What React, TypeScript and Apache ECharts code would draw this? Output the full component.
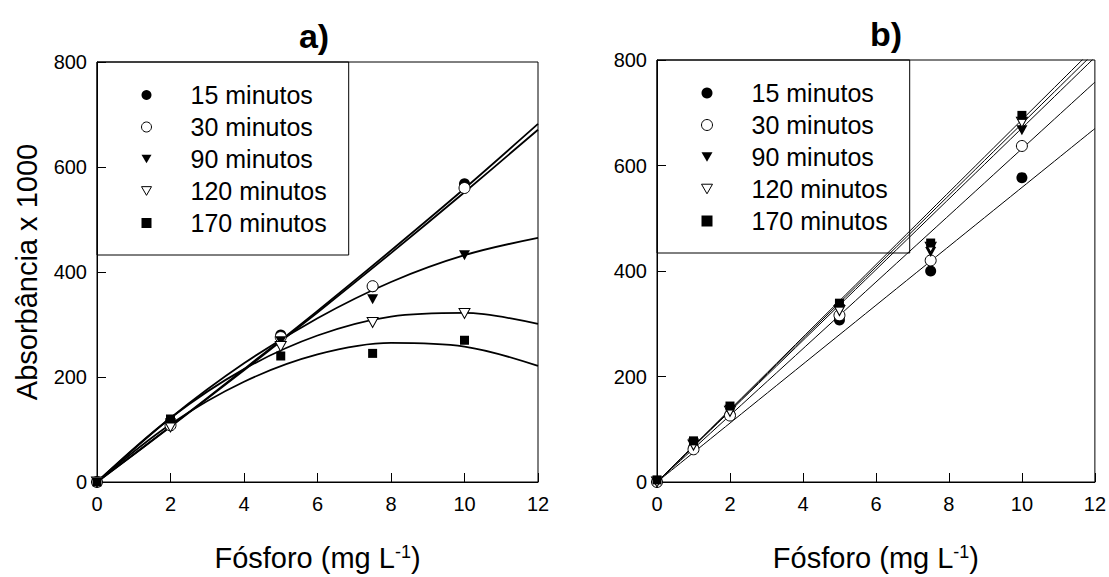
import React, { useEffect, useRef } from "react";
import * as echarts from "echarts";

const FONT = '"Liberation Sans", Arial, Helvetica, sans-serif';

const seriesNames = ["15 minutos", "30 minutos", "90 minutos", "120 minutos", "170 minutos"];
const xTicks = [0, 12, 2];
const yTicks = [0, 800, 200];

// Panel a) measured points
const xA = [0, 2, 5, 7.5, 10];
const a15 = [0, 115, 280, 372, 568];
const a30 = [0, 108, 276, 373, 560];
const a90 = [0, 112, 268, 348, 432];
const a120 = [0, 105, 258, 304, 321];
const a170 = [0, 120, 240, 245, 270];

// Panel a) fitted curves
const fitXA = [0, 2, 4, 6, 8, 10, 12];
const fitA15 = [0, 106, 215, 326, 441, 559, 682];
const fitA30 = [0, 105, 213, 323, 436, 552, 671];
const fitA90 = [0, 122, 226, 312, 381, 432, 465];
const fitA120 = [0, 122, 215, 279, 315, 322, 301];
const fitA170 = [0, 110, 191, 243, 265, 258, 221];

// Panel b) measured points
const xB = [0, 1, 2, 5, 7.5, 10];
const b15 = [0, 65, 128, 307, 400, 577];
const b30 = [0, 62, 126, 316, 420, 637];
const b90 = [0, 73, 137, 328, 436, 667];
const b120 = [0, 70, 134, 325, 445, 682];
const b170 = [4, 78, 144, 339, 453, 695];

// Panel b) fitted straight lines
const fitXB = [0, 12];
const fitB15 = [0, 670];
const fitB30 = [0, 758];
const fitB90 = [0, 805];
const fitB120 = [0, 815];
const fitB170 = [0, 824];

const TRI_DOWN = "path://M0,0L10,0L5,8.7Z";
const markers = [
  { symbol: "circle", size: 11, fill: "#000" },
  { symbol: "circle", size: 11, fill: "#fff" },
  { symbol: TRI_DOWN, size: [11, 10], fill: "#000" },
  { symbol: TRI_DOWN, size: [11, 10], fill: "#fff" },
  { symbol: "rect", size: 9, fill: "#000" },
];

function pts(x: number[], y: number[]) {
  return x.map((v, i) => [v, y[i]]);
}

function scatterSeries(idx: number, x: number[], y: number[], k: number) {
  const m = markers[k];
  return {
    type: "scatter",
    name: seriesNames[k],
    xAxisIndex: idx,
    yAxisIndex: idx,
    data: pts(x, y),
    symbol: m.symbol,
    symbolSize: m.size,
    itemStyle: { color: m.fill, borderColor: "#000", borderWidth: m.fill === "#fff" ? 1 : 0, opacity: 1 },
    z: 3 + k * 0.01,
    silent: true,
    emphasis: { disabled: true },
  };
}

function lineSeries(idx: number, x: number[], y: number[], k: number, width: number) {
  return {
    type: "line",
    name: seriesNames[k] + " ajuste",
    xAxisIndex: idx,
    yAxisIndex: idx,
    data: pts(x, y),
    smooth: 0.35,
    symbol: "none",
    showSymbol: false,
    lineStyle: { color: "#000", width },
    clip: true,
    z: 2,
    silent: true,
    emphasis: { disabled: true },
  };
}

function legendFor(left: number, top: number, iconSize: number) {
  return {
    show: true,
    orient: "vertical",
    left,
    top,
    padding: [20, 22, 19, 44],
    borderColor: "#000",
    borderWidth: 1,
    itemWidth: iconSize,
    itemHeight: iconSize,
    itemGap: 6,
    selectedMode: false,
    formatter: (n: string) => "{g| }" + n,
    textStyle: {
      fontSize: 25,
      lineHeight: 26,
      color: "#000",
      fontFamily: FONT,
      rich: { g: { width: 34, fontSize: 25 } },
    },
    data: seriesNames.map((n, k) => ({
      name: n,
      icon: markers[k].symbol,
      itemStyle: {
        color: markers[k].fill,
        borderColor: "#000",
        borderWidth: markers[k].fill === "#fff" ? 1 : 0,
      },
    })),
  };
}

function xAxisFor(idx: number) {
  return {
    type: "value",
    gridIndex: idx,
    min: xTicks[0],
    max: xTicks[1],
    interval: xTicks[2],
    name: "Fósforo (mg L{sup|-1})",
    nameLocation: "middle",
    nameGap: 61,
    nameTextStyle: {
      fontSize: 29,
      color: "#000",
      fontFamily: FONT,
      rich: { sup: { fontSize: 18, verticalAlign: "top", color: "#000", fontFamily: FONT } },
    },
    axisLine: { show: true, onZero: false, lineStyle: { color: "#000", width: 1 } },
    axisTick: { show: true, inside: true, length: 9, lineStyle: { color: "#000" } },
    axisLabel: { color: "#000", fontSize: 20, fontFamily: FONT, margin: 12 },
    splitLine: { show: false },
  };
}

function yAxisFor(idx: number, withName: boolean) {
  return {
    type: "value",
    gridIndex: idx,
    min: yTicks[0],
    max: yTicks[1],
    interval: yTicks[2],
    name: withName ? "Absorbância x 1000" : "",
    nameLocation: "middle",
    nameGap: 56,
    nameTextStyle: { fontSize: 29, color: "#000", fontFamily: FONT },
    axisLine: { show: true, onZero: false, lineStyle: { color: "#000", width: 1 } },
    axisTick: { show: true, inside: true, length: 9, lineStyle: { color: "#000" } },
    axisLabel: { color: "#000", fontSize: 20, fontFamily: FONT, margin: 10 },
    splitLine: { show: false },
  };
}

export default function App() {
  const ref = useRef<HTMLDivElement>(null);
  useEffect(() => {
    if (!ref.current) return;
    const chart = echarts.init(ref.current, undefined, { renderer: "svg" });
    const fitsA = [fitA15, fitA30, fitA90, fitA120, fitA170];
    const ptsA = [a15, a30, a90, a120, a170];
    const fitsB = [fitB15, fitB30, fitB90, fitB120, fitB170];
    const ptsB = [b15, b30, b90, b120, b170];
    const series: any[] = [];
    fitsA.forEach((f, k) => series.push(lineSeries(0, fitXA, f, k, 1.8)));
    fitsB.forEach((f, k) => series.push(lineSeries(1, fitXB, f, k, 1)));
    ptsA.forEach((p, k) => series.push(scatterSeries(0, xA, p, k)));
    ptsB.forEach((p, k) => series.push(scatterSeries(1, xB, p, k)));

    chart.setOption({
      animation: false,
      backgroundColor: "#fff",
      textStyle: { fontFamily: FONT },
      title: [
        { text: "a)", left: 309, top: 14, textAlign: "center", textStyle: { fontSize: 34, fontWeight: "bold", color: "#000", fontFamily: FONT } },
        { text: "b)", left: 881, top: 12, textAlign: "center", textStyle: { fontSize: 34, fontWeight: "bold", color: "#000", fontFamily: FONT } },
      ],
      grid: [
        { left: 97, top: 62, width: 441, height: 426, show: true, borderColor: "#000", borderWidth: 1, backgroundColor: "transparent" },
        { left: 657, top: 60, width: 439, height: 423, show: true, borderColor: "#000", borderWidth: 1, backgroundColor: "transparent" },
      ],
      legend: [legendFor(97, 62, 10), legendFor(657, 60, 11)],
      xAxis: [xAxisFor(0), xAxisFor(1)],
      yAxis: [yAxisFor(0, true), yAxisFor(1, false)],
      series,
    });
    return () => chart.dispose();
  }, []);
  return (
    <div
      ref={ref}
      style={{ position: "absolute", left: 0, top: 0, width: 1109, height: 577, background: "#fff" }}
    />
  );
}
